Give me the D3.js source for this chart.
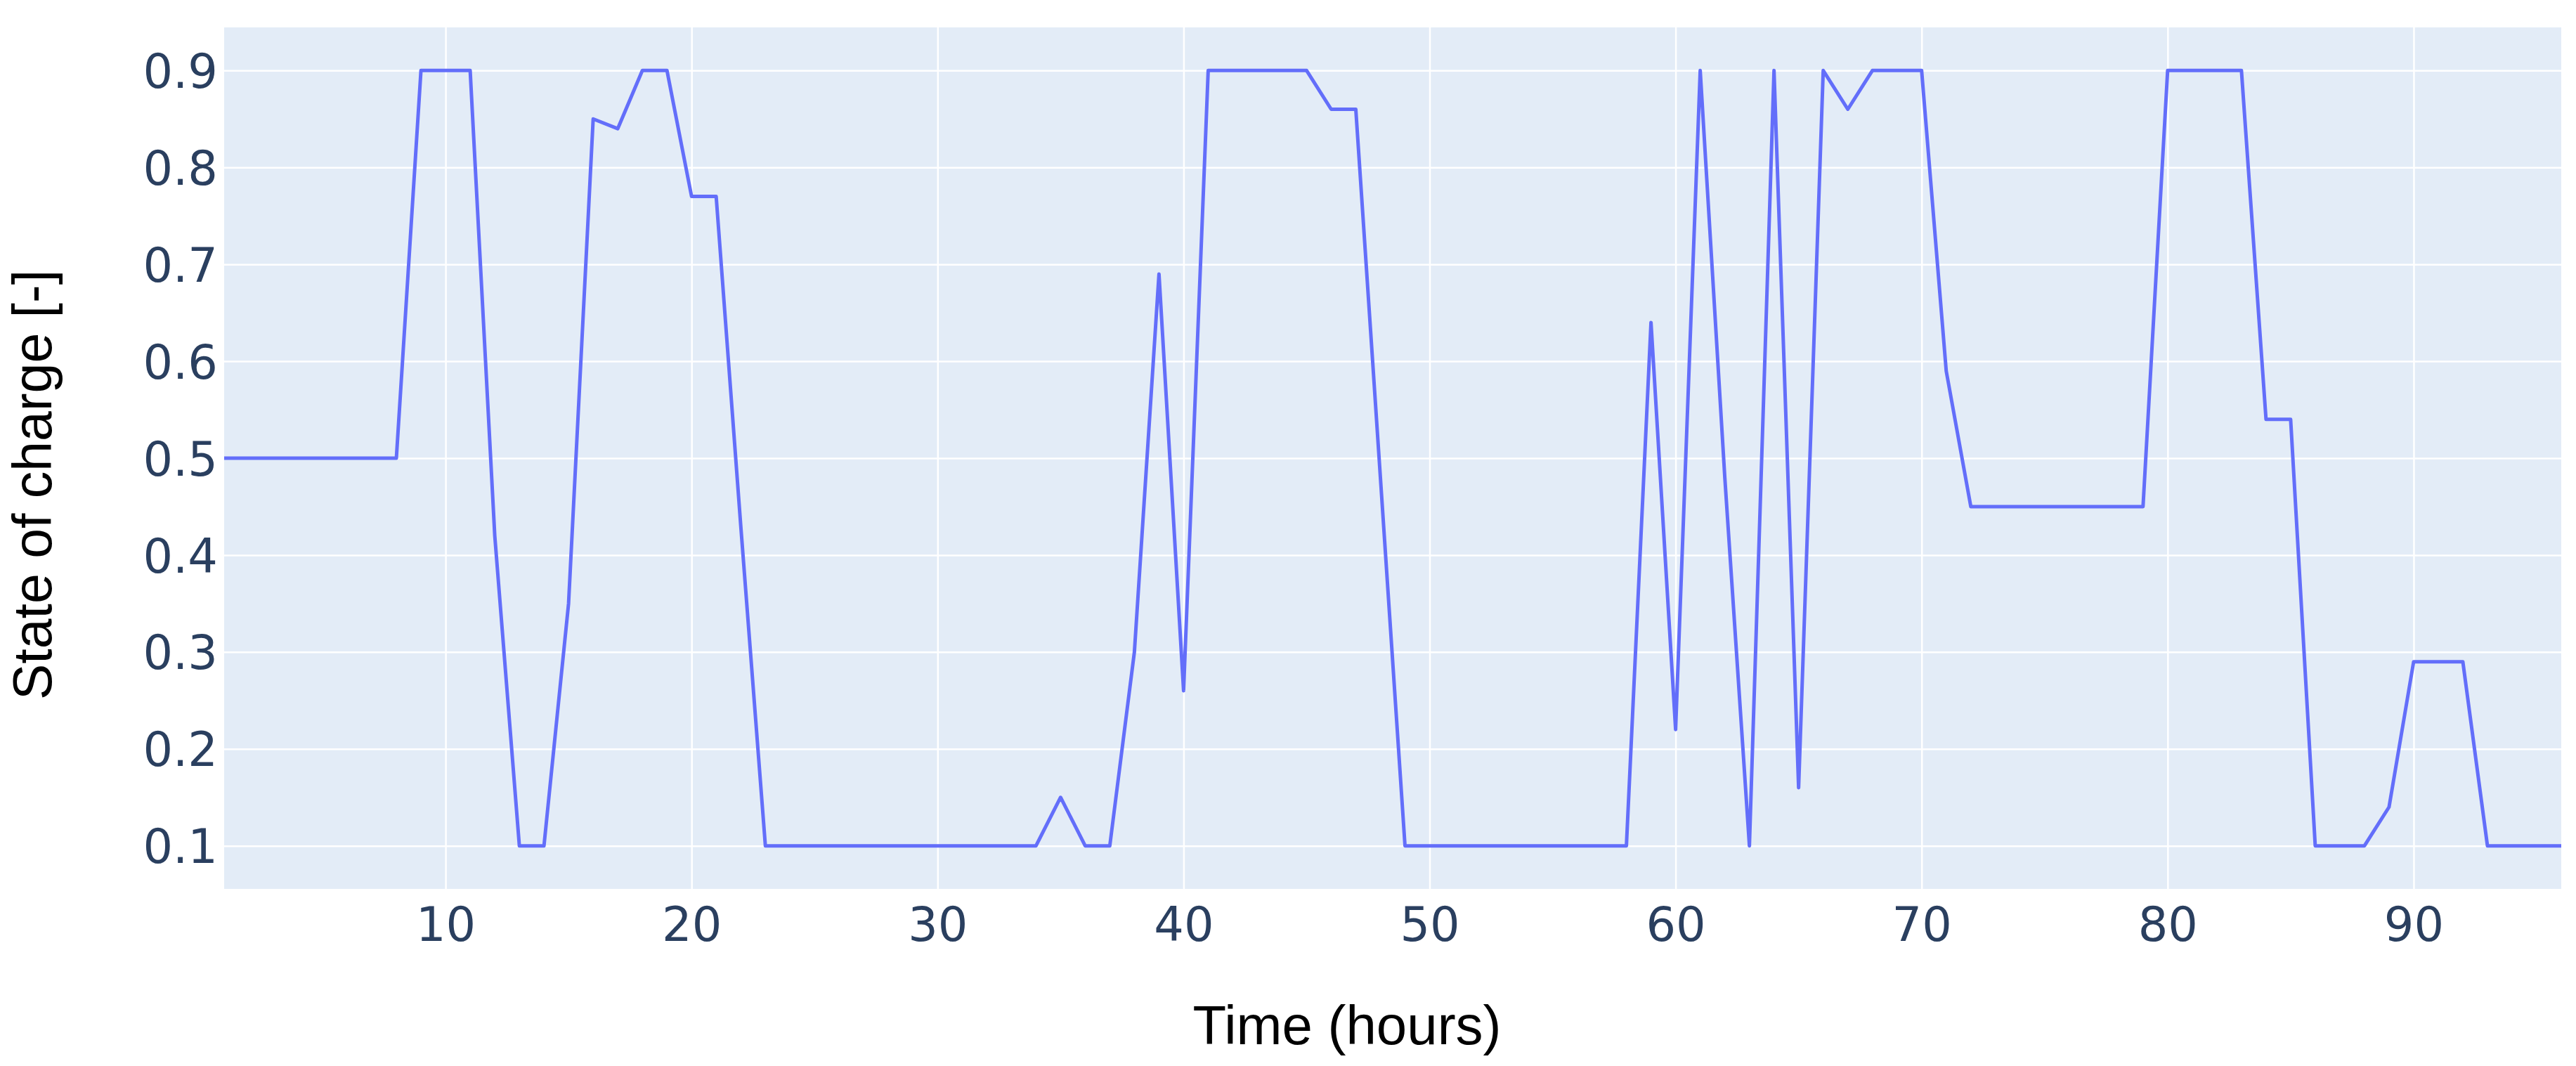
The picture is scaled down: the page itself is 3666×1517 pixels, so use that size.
<!DOCTYPE html>
<html lang="en">
<head>
<meta charset="utf-8">
<title>State of charge</title>
<script src="https://cdn.jsdelivr.net/npm/d3@7"></script>
<style>
    body { margin: 0; background: #fff; }
    .axis path.domain { display: none; }
    .axis line { stroke: #fff; stroke-width: 2.5; }
    .axis text { font-family: "DejaVu Sans", sans-serif; font-size: 67px; fill: #2a3f5f; }
    .title { font-family: "Liberation Sans", Arial, sans-serif; fill: #000; }
    .line { fill: none; stroke: #636efa; stroke-width: 5; stroke-linejoin: round; }
</style>
</head>
<body>
<svg></svg>
<script>
    // hourly state of charge
    var hours = [1, 2, 3, 4, 5, 6, 7, 8, 9, 10, 11, 12, 13, 14, 15, 16, 17, 18, 19, 20,
        21, 22, 23, 24, 25, 26, 27, 28, 29, 30, 31, 32, 33, 34, 35, 36, 37, 38, 39, 40,
        41, 42, 43, 44, 45, 46, 47, 48, 49, 50, 51, 52, 53, 54, 55, 56, 57, 58, 59, 60,
        61, 62, 63, 64, 65, 66, 67, 68, 69, 70, 71, 72, 73, 74, 75, 76, 77, 78, 79, 80,
        81, 82, 83, 84, 85, 86, 87, 88, 89, 90, 91, 92, 93, 94, 95, 96];

    var soc = [0.5, 0.5, 0.5, 0.5, 0.5, 0.5, 0.5, 0.5, 0.9, 0.9, 0.9, 0.42, 0.1, 0.1, 0.35, 0.85, 0.84, 0.9, 0.9, 0.77,
        0.77, 0.43, 0.1, 0.1, 0.1, 0.1, 0.1, 0.1, 0.1, 0.1, 0.1, 0.1, 0.1, 0.1, 0.15, 0.1, 0.1, 0.3, 0.69, 0.26,
        0.9, 0.9, 0.9, 0.9, 0.9, 0.86, 0.86, 0.48, 0.1, 0.1, 0.1, 0.1, 0.1, 0.1, 0.1, 0.1, 0.1, 0.1, 0.64, 0.22,
        0.9, 0.48, 0.1, 0.9, 0.16, 0.9, 0.86, 0.9, 0.9, 0.9, 0.59, 0.45, 0.45, 0.45, 0.45, 0.45, 0.45, 0.45, 0.45, 0.9,
        0.9, 0.9, 0.9, 0.54, 0.54, 0.1, 0.1, 0.1, 0.14, 0.29, 0.29, 0.29, 0.1, 0.1, 0.1, 0.1];

    var xTicks = [10, 20, 30, 40, 50, 60, 70, 80, 90];
    var yTicks = [0.1, 0.2, 0.3, 0.4, 0.5, 0.6, 0.7, 0.8, 0.9];

    var width = 3666, height = 1517;
    var margin = {top: 39, right: 21, bottom: 252, left: 319};
    var plotW = width - margin.left - margin.right,
        plotH = height - margin.top - margin.bottom;

    var svg = d3.select("svg")
        .attr("width", width)
        .attr("height", height);

    var g = svg.append("g")
        .attr("transform", "translate(" + margin.left + "," + margin.top + ")");

    // plotly style padding round the data range
    var pad = (0.9 - 0.1) / 18;
    var x = d3.scaleLinear().domain([1, 96]).range([0, plotW]);
    var y = d3.scaleLinear().domain([0.1 - pad, 0.9 + pad]).range([plotH, 0]);

    g.append("rect")
        .attr("width", plotW)
        .attr("height", plotH)
        .attr("fill", "#e3ecf7");

    g.append("g")
        .attr("class", "axis x")
        .attr("transform", "translate(0," + plotH + ")")
        .call(d3.axisBottom(x)
            .tickValues(xTicks)
            .tickSize(plotH)
            .tickPadding(0)
            .tickFormat(d3.format("d")))
        .call(function (a) {
            a.selectAll(".tick line").attr("y2", -plotH);
            a.selectAll(".tick text").attr("y", 74).attr("dy", 0);
        });

    g.append("g")
        .attr("class", "axis y")
        .call(d3.axisLeft(y)
            .tickValues(yTicks)
            .tickSize(-plotW)
            .tickPadding(9)
            .tickFormat(d3.format(".1f")))
        .selectAll(".tick text")
        .attr("dy", "0.36em");

    var line = d3.line()
        .x(function (d, i) { return x(hours[i]); })
        .y(function (d) { return y(d); });

    g.append("path")
        .datum(soc)
        .attr("class", "line")
        .attr("d", line);

    svg.append("text")
        .attr("class", "title")
        .attr("x", 1917)
        .attr("y", 1486)
        .attr("text-anchor", "middle")
        .style("font-size", "78px")
        .text("Time (hours)");

    svg.append("text")
        .attr("class", "title")
        .attr("transform", "translate(73,690) rotate(-90)")
        .attr("text-anchor", "middle")
        .style("font-size", "77px")
        .text("State of charge [-]");
</script>
</body>
</html>
